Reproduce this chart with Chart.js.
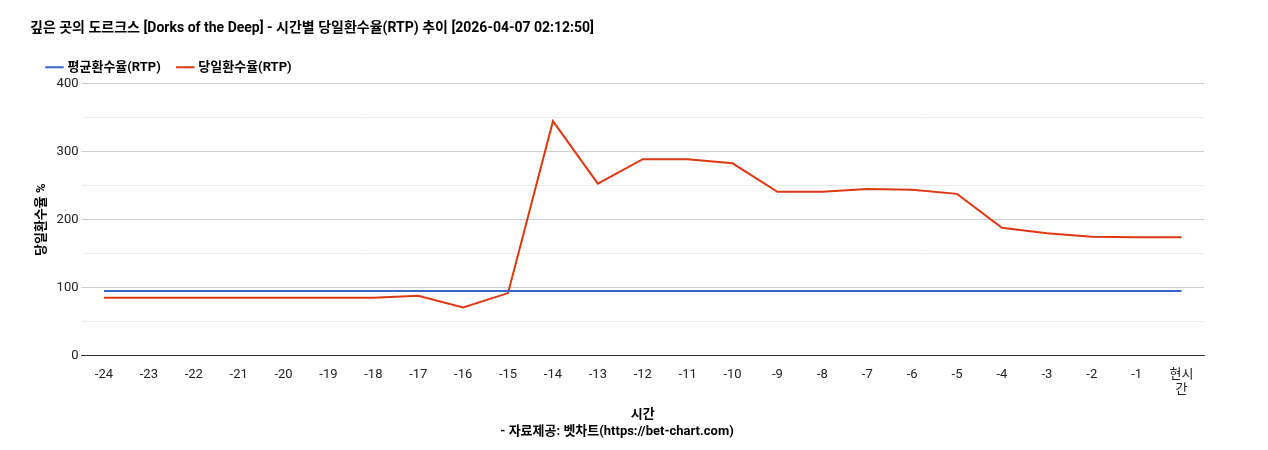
<!DOCTYPE html>
<html>
<head>
<meta charset="utf-8">
<script src="https://cdn.jsdelivr.net/npm/chart.js@4/dist/chart.umd.min.js"></script>
<style>
  body { margin: 0; background: #fff; }
  #wrap { width: 1268px; height: 450px; }
</style>
</head>
<body>
<div id="wrap"><canvas id="c"></canvas></div>
<script>
const labels = ['-24','-23','-22','-21','-20','-19','-18','-17','-16','-15','-14','-13','-12','-11','-10','-9','-8','-7','-6','-5','-4','-3','-2','-1',['현시','간']];
const avgRtp = [95,95,95,95,95,95,95,95,95,95,95,95,95,95,95,95,95,95,95,95,95,95,95,95,95];
const dailyRtp = [85,85,85,85,85,85,85,88,71,92,345,253,289,289,283,241,241,245,244,238,188,180,175,174,174];

Chart.defaults.font.family = "Roboto, 'Noto Sans CJK KR', sans-serif";
Chart.defaults.color = '#222';

new Chart(document.getElementById('c'), {
  type: 'line',
  data: {
    labels,
    datasets: [
      { label: '평균환수율(RTP)', data: avgRtp, borderColor: '#3366cc', backgroundColor: '#3366cc', borderWidth: 2, pointRadius: 0, tension: 0 },
      { label: '당일환수율(RTP)', data: dailyRtp, borderColor: '#dc3912', backgroundColor: '#dc3912', borderWidth: 2, pointRadius: 0, tension: 0 }
    ]
  },
  options: {
    responsive: true,
    maintainAspectRatio: false,
    animation: false,
    layout: { padding: { left: 30, right: 64, top: 4, bottom: 6 } },
    plugins: {
      title: { display: true, text: '깊은 곳의 도르크스 [Dorks of the Deep] - 시간별 당일환수율(RTP) 추이 [2026-04-07 02:12:50]', align: 'start', font: { size: 14, weight: 'bold' }, color: '#000', padding: { top: 16, bottom: 6 } },
      subtitle: { display: true, position: 'bottom', text: '- 자료제공: 벳차트(https://bet-chart.com)', font: { size: 13, weight: 'bold' }, color: '#000', padding: { top: 0, bottom: 4 } },
      legend: { align: 'start', labels: { usePointStyle: true, pointStyle: 'line', boxWidth: 40, padding: 18, color: '#000', font: { size: 13, weight: 'bold' } } },
      tooltip: { enabled: false }
    },
    scales: {
      x: {
        offset: true,
        grid: { display: false },
        border: { color: '#333' },
        ticks: { color: '#222', font: { size: 13 }, maxRotation: 0, autoSkip: false },
        title: { display: true, text: '시간', color: '#000', font: { size: 13, weight: 'bold' }, padding: { top: 6, bottom: 2 } }
      },
      y: {
        min: 0, max: 400,
        ticks: { stepSize: 50, color: '#222', font: { size: 13 }, callback: v => v % 100 === 0 ? v : '' },
        grid: { color: ctx => ctx.tick && ctx.tick.value % 100 === 0 ? '#cccccc' : '#ebebeb', drawTicks: false },
        border: { display: false },
        title: { display: true, text: '당일환수율 %', color: '#000', font: { size: 13, weight: 'bold' } }
      }
    }
  }
});
</script>
</body>
</html>
